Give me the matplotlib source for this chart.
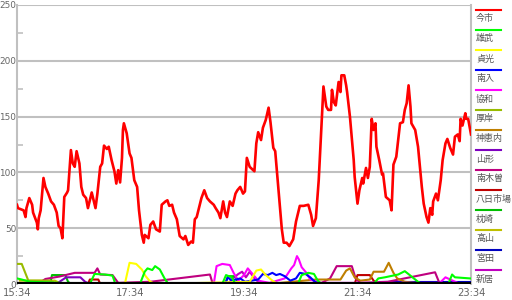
import matplotlib
matplotlib.use("Agg")
import matplotlib.pyplot as plt
from matplotlib.lines import Line2D

# minutes after 15:34
tick_labels = ["15:34", "17:34", "19:34", "21:34", "23:34"]
tick_minutes = [0, 120, 240, 360, 480]

names = ["今市", "雄武", "貞光", "南入", "協和", "厚岸", "神恵内", "山形",
         "南木曽", "八日市場", "枕崎", "高山", "宮田", "新居"]
colors = ["#ff0000", "#00ff00", "#ffff00", "#0000ff", "#ff00ff", "#99bb00",
          "#bf7f00", "#7f00bf", "#bf007f", "#bf0000", "#00bf00", "#bfbf00",
          "#0000bf", "#bf00bf"]

# (minute, value) pairs
imaichi = [
    (0, 71), (1, 68), (7, 66), (9, 60), (10, 68), (13, 77), (16, 71), (17, 64),
    (21, 55), (22, 49), (23, 59), (25, 66), (28, 95), (30, 87), (33, 81),
    (36, 74), (39, 71), (42, 64), (44, 52), (46, 50), (48, 41), (50, 78),
    (53, 82), (54, 84), (57, 120), (59, 108), (61, 105), (63, 119), (66, 108),
    (68, 87), (70, 80), (73, 77), (75, 68), (77, 75), (79, 82), (81, 75),
    (83, 68), (85, 81), (88, 105), (90, 108), (92, 124), (95, 121), (97, 123),
    (100, 111), (103, 101), (105, 90), (107, 102), (109, 91), (111, 113),
    (112, 138), (113, 144), (116, 135), (119, 117), (121, 113), (124, 93),
    (127, 87), (129, 66), (132, 44), (134, 37), (135, 44), (139, 41),
    (141, 53), (144, 56), (147, 49), (151, 47), (153, 71), (157, 74),
    (159, 75), (161, 70), (164, 71), (166, 64), (169, 58), (172, 43),
    (176, 40), (178, 43), (181, 35), (184, 38), (186, 37), (188, 58),
    (190, 60), (193, 70), (195, 77), (198, 84), (201, 77), (204, 74),
    (208, 71), (210, 68), (213, 64), (215, 59), (218, 74), (220, 64),
    (222, 60), (225, 74), (228, 70), (231, 81), (233, 84), (236, 87),
    (239, 81), (241, 83), (243, 113), (246, 105), (251, 101), (253, 126),
    (255, 136), (258, 129), (260, 140), (263, 147), (266, 158), (268, 145),
    (271, 122), (273, 119), (275, 99), (277, 78), (280, 49), (282, 37),
    (285, 37), (288, 34), (292, 40), (295, 56), (299, 70), (303, 70),
    (308, 71), (311, 62), (313, 52), (316, 59), (319, 93), (321, 126),
    (324, 177), (327, 159), (329, 156), (332, 156), (333, 174), (335, 163),
    (337, 160), (340, 181), (342, 172), (343, 187), (346, 187), (348, 178),
    (349, 172), (352, 150), (356, 111), (357, 96), (360, 72), (362, 84),
    (365, 95), (366, 90), (369, 104), (371, 95), (373, 105), (375, 148),
    (377, 138), (379, 144), (380, 123), (383, 111), (386, 98), (387, 99),
    (390, 78), (394, 75), (396, 66), (398, 107), (401, 114), (403, 129),
    (405, 144), (408, 145), (410, 156), (412, 162), (414, 178), (416, 159),
    (417, 144), (421, 138), (424, 123), (428, 87), (430, 72), (433, 60),
    (435, 55), (437, 68), (439, 62), (440, 74), (443, 81), (445, 75),
    (448, 93), (450, 111), (453, 126), (455, 130), (458, 122), (461, 116),
    (463, 132), (466, 134), (468, 128), (469, 148), (471, 142), (474, 153),
    (475, 148), (477, 148), (480, 134),
]
imaichi_t = [p[0] for p in imaichi]
imaichi_v = [p[1] for p in imaichi]

oumu_t = [0, 5, 14, 77, 82, 93, 101, 104, 130, 135, 138, 143, 146, 151, 156, 160,
          217, 221, 227, 231, 297, 301, 308, 314, 318, 322, 377, 382, 389, 403,
          410, 413, 424, 428, 456, 460, 463, 479]
oumu_v = [5, 4, 2, 0, 9, 8.5, 7.5, 0, 0, 11, 14, 12.5, 16, 13, 5, 0,
          0, 8, 6, 0, 0, 8, 10, 9, 3, 0, 0, 5, 6, 8.5,
          11.5, 9.5, 2, 0, 0, 8.5, 6, 5]

sadamitsu_t = [114, 119, 126, 132, 136, 141, 146, 246, 253, 258, 263, 270, 276]
sadamitsu_v = [0, 19, 18, 13, 7, 2, 0, 2, 12, 13, 8, 3, 0]

nannyu_t = [220, 223, 227, 236, 241, 255, 260, 265, 270, 274, 278, 283, 289,
            295, 299, 305, 310, 315, 320, 410, 479]
nannyu_v = [0, 6, 3, 5, 2, 4, 9, 8, 10, 8, 9, 7, 3, 5, 10, 9, 6, 2, 0, 1, 1]

kyowa_t = [208, 211, 217, 225, 229, 234, 240, 244, 248, 255, 267, 283, 290, 293,
           296, 298, 301, 306, 310, 320, 447, 453, 458, 466]
kyowa_v = [0, 16, 18, 17, 10, 3, 8, 14, 10, 3, 1, 5, 14, 17, 25, 22, 15, 10, 4,
           1, 1, 6, 4, 1]

akkeshi_t = [0, 5, 12, 35, 40]
akkeshi_v = [18, 18, 3, 3, 1]

kamoenai_t = [278, 316, 342, 348, 352, 357, 363, 373, 377, 388, 393, 398, 402,
              410, 421]
kamoenai_v = [1, 4, 4, 12, 14, 6, 3, 4, 11, 11, 19, 10, 5, 2, 1]

yamagata_t = [45, 52, 67, 72, 77]
yamagata_v = [2, 6, 6, 2, 0]

nagiso_t = [24, 30, 45, 61, 82, 85, 88, 101, 107, 141, 204, 207, 322, 331, 338,
            354, 358, 363, 392, 442, 447]
nagiso_v = [1, 4.5, 6.7, 10, 10, 14, 8.5, 8, 1, 2, 8.5, 0, 1, 5, 16, 16, 5, 1,
            2, 10.5, 0]

yokaichiba_t = [75, 77, 86, 88, 357, 360, 373, 377, 382]
yokaichiba_v = [0, 4, 4, 0, 0, 8, 8, 3, 0]

makurazaki_t = [35, 37, 51, 54, 57, 220, 223, 231, 234]
makurazaki_v = [0, 8, 8, 2, 0, 0, 7, 7, 0]

takayama_t = [3, 40, 45]
takayama_v = [3, 3, 1]

miyata_t = [384, 479]
miyata_v = [2, 2]

arai_t = [223, 227, 234, 238, 242, 246, 252, 257]
arai_v = [0, 4, 9, 11, 6, 11, 4, 1]

series = [(imaichi_t, imaichi_v), (oumu_t, oumu_v), (sadamitsu_t, sadamitsu_v),
          (nannyu_t, nannyu_v), (kyowa_t, kyowa_v), (akkeshi_t, akkeshi_v),
          (kamoenai_t, kamoenai_v), (yamagata_t, yamagata_v),
          (nagiso_t, nagiso_v), (yokaichiba_t, yokaichiba_v),
          (makurazaki_t, makurazaki_v), (takayama_t, takayama_v),
          (miyata_t, miyata_v), (arai_t, arai_v)]

W, H = 512, 300
fig = plt.figure(figsize=(W / 100, H / 100), dpi=100)
ax = fig.add_axes([17 / W, 16 / H, 454 / W, 279 / H])

grid_c = "#c0c0c0"
for i in range(len(series) - 1, -1, -1):
    t, v = series[i]
    ax.plot(t, v, color=colors[i], lw=1.9 if i == 0 else 1.5, zorder=3 + (i == 0))

ax.axhline(0, color="black", lw=3, zorder=6)
ax.set_xlim(0, 480)
ax.set_ylim(0, 250)
ax.set_yticks([0, 50, 100, 150, 200, 250])
ax.set_yticks([25, 75, 125, 175, 225], minor=True)
ax.set_xticks(tick_minutes)
ax.set_xticklabels(tick_labels)
ax.yaxis.grid(True, color=grid_c, lw=1.5, zorder=1)
ax.tick_params(axis="y", which="major", length=0, pad=0.5, labelsize=6.4,
               labelcolor="#666666")
ax.tick_params(axis="y", which="minor", direction="in", length=4, width=1.2,
               color=grid_c)
ax.tick_params(axis="x", length=0, pad=3, labelsize=7.2, labelcolor="#666666")
for s in ["top", "bottom"]:
    ax.spines[s].set_visible(False)
for s in ["left", "right"]:
    ax.spines[s].set_color(grid_c)
    ax.spines[s].set_linewidth(1.5)

# legend drawn at the right edge
for i, name in enumerate(names):
    ly = H - (10 + 20 * i)
    fig.add_artist(Line2D([476 / W, 501 / W], [ly / H, ly / H],
                          color=colors[i], lw=1.5))
    fig.text(476 / W, (ly - 9) / H, name, fontsize=6.5, color="#555555",
             va="center", ha="left", family=["Noto Sans CJK JP", "DejaVu Sans"])

fig.savefig("out.png", dpi=100)
